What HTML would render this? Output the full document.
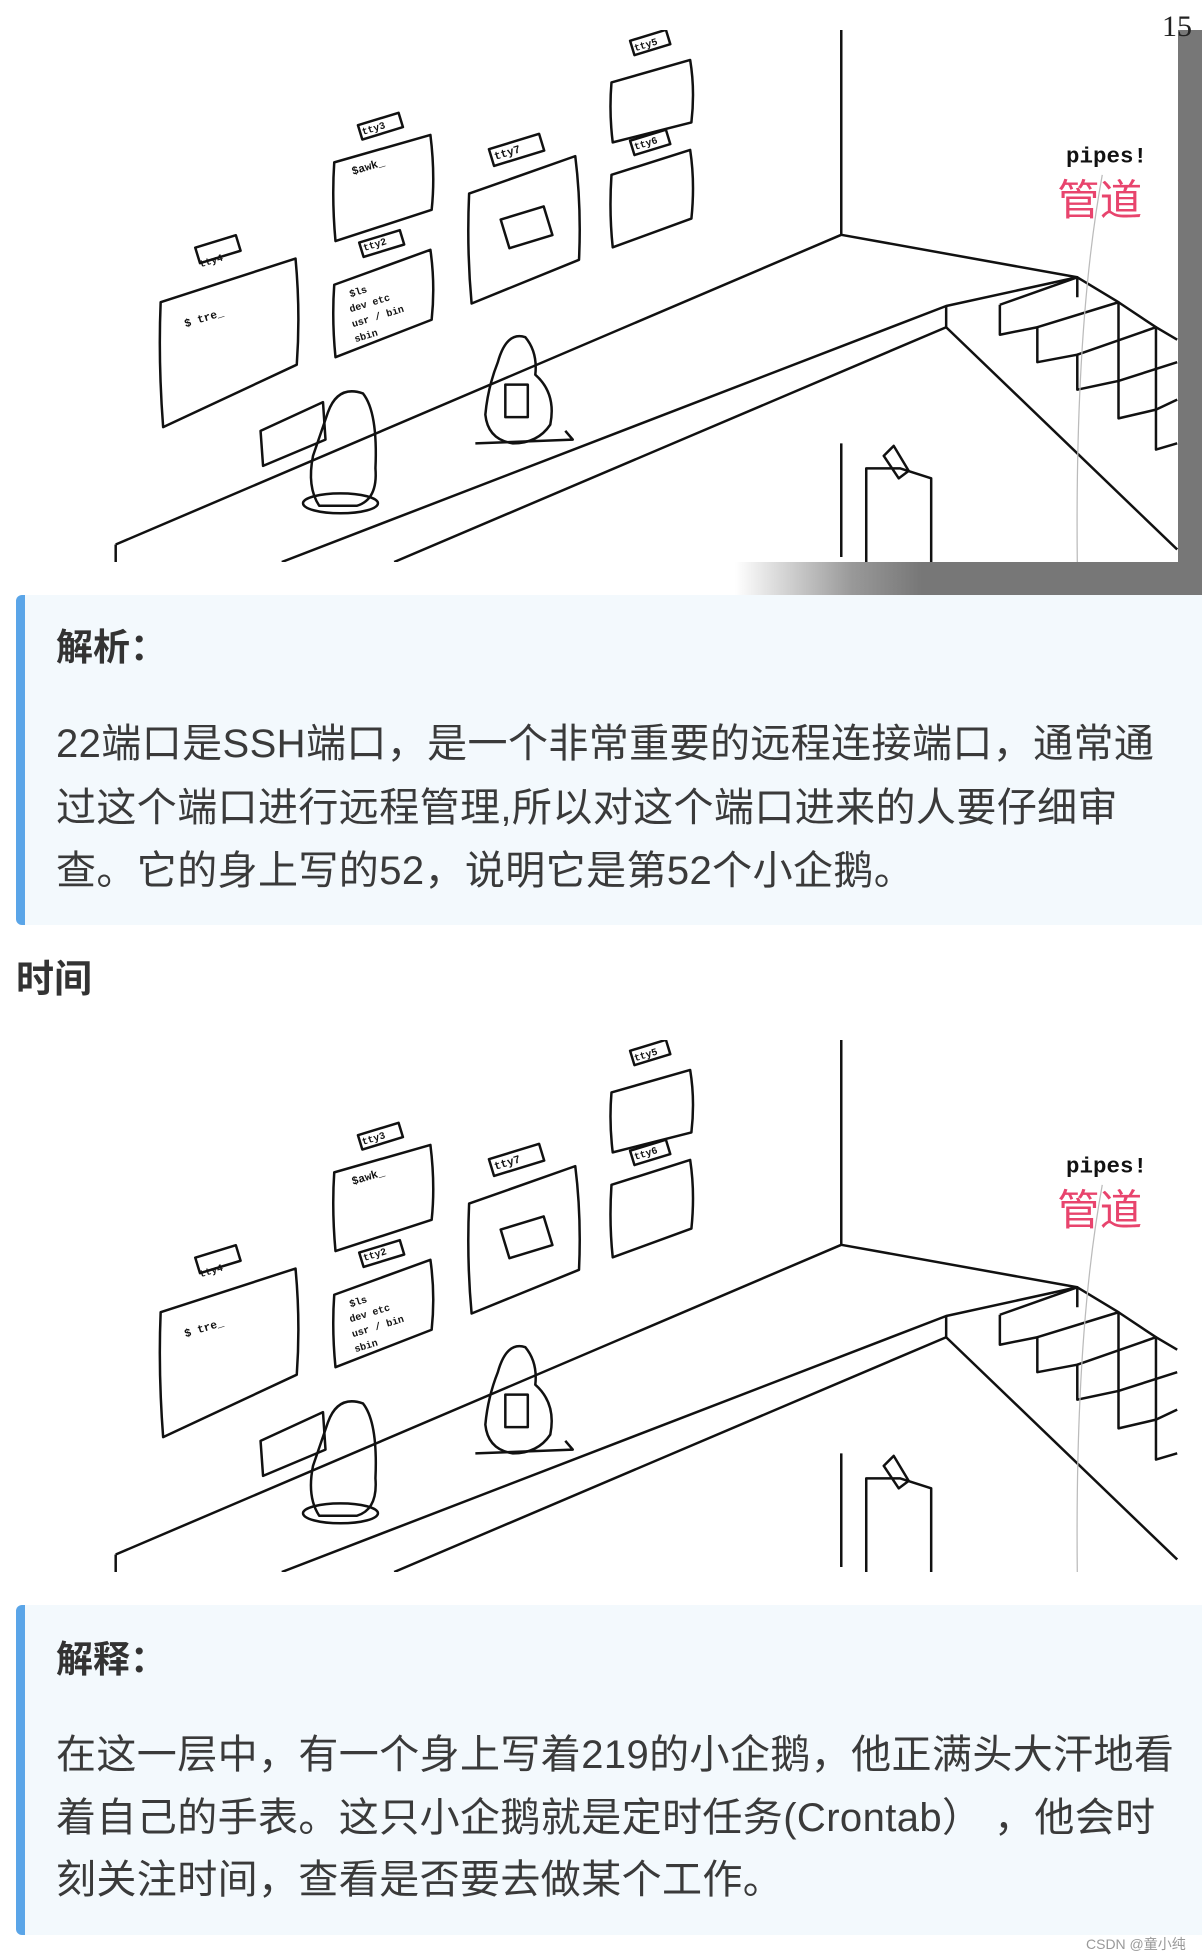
<!DOCTYPE html>
<html><head><meta charset="utf-8"><style>
html,body{margin:0;padding:0;background:#fff;}
body{width:1202px;height:1960px;position:relative;overflow:hidden;font-family:"Liberation Sans","Noto Sans CJK SC",sans-serif;color:#333;}
.abs{position:absolute;}
.bq{position:absolute;left:16px;width:1186px;background:#f3f9fd;border-left:9px solid #5aa5e8;border-radius:6px 0 0 6px;box-sizing:border-box;}
.t{position:absolute;left:56px;font-size:40px;letter-spacing:0.4px;line-height:64px;white-space:nowrap;color:#3a3a3a;}
.h{position:absolute;left:56px;font-size:37px;font-weight:bold;line-height:64px;color:#333;}
svg text{font-family:"Liberation Mono",monospace;}
</style></head><body>

<div class="abs" style="left:1178px;top:30px;width:24px;height:565px;background:#777;"></div>
<div class="abs" style="left:735px;top:562px;width:467px;height:33px;background:linear-gradient(to right,#fff 0%,#999 25%,#777 40%,#777 100%);"></div>
<div class="abs" style="left:0;top:30px;width:1178px;height:532px;background:#fff;border-radius:0 0 18px 0;"></div>
<div class="abs" style="left:1162px;top:10px;font-family:'Liberation Serif',serif;font-size:30px;color:#222;">15</div>

<svg class="abs" style="left:0;top:30px" width="1178" height="532" viewBox="0 24 942 426">
<g fill="none" stroke="#111" stroke-width="2" stroke-linejoin="round">
<line x1="673" y1="24" x2="673" y2="188"/>
<polyline points="92,436 673,188 862,222 862,238"/>
<polyline points="92,436 92,450"/>
<polyline points="225,450 757,245 862,222"/>
<polyline points="315,450 757,262 757,245"/>
<line x1="757" y1="262" x2="942" y2="440"/>
<polyline points="800,244 800,268 830,262 830,290 862,284 862,312 895,305 895,335 925,328 925,360 942,355"/>
<polyline points="800,244 862,222 895,242 895,305"/>
<polyline points="830,262 895,242 925,262 925,328"/>
<polyline points="862,284 925,262 942,272"/>
<polyline points="895,305 942,290"/>
<polyline points="925,328 942,320"/>
<line x1="673" y1="355" x2="673" y2="446"/>
<polyline points="693,450 693,375 720,375 745,383 745,450"/>
<path d="M707,365 l8,-8 l12,20 l-8,6 z"/>
<path d="M128,242 L236,207 Q240,250 237,292 L130,342 Q126,290 128,242 Z"/>
<rect x="157" y="193" width="34" height="13" transform="rotate(-17 174 200)"/>
<path d="M267,130 L344,108 Q348,140 345,168 L268,193 Q265,160 267,130 Z"/>
<rect x="287" y="95" width="34" height="12" transform="rotate(-17 304 101)"/>
<path d="M267,228 L344,200 Q348,228 345,256 L268,286 Q265,256 267,228 Z"/>
<rect x="288" y="189" width="34" height="12" transform="rotate(-17 305 195)"/>
<path d="M375,155 L460,125 Q465,165 463,208 L377,243 Q373,200 375,155 Z"/>
<rect x="392" y="113" width="42" height="14" transform="rotate(-17 413 120)"/>
<rect x="403" y="170" width="36" height="24" transform="rotate(-17 421 182)"/>
<path d="M489,66 L552,48 Q556,72 553,98 L490,114 Q487,90 489,66 Z"/>
<rect x="505" y="28" width="30" height="12" transform="rotate(-17 520 34)"/>
<path d="M489,140 L552,120 Q556,146 553,175 L490,198 Q487,170 489,140 Z"/>
<rect x="505" y="108" width="30" height="12" transform="rotate(-17 520 114)"/>
<path d="M208,345 L258,322 L260,352 L210,373 Z"/>
<path d="M262,330 Q270,308 290,315 Q302,330 300,375 Q302,400 285,405 L255,405 Q245,390 250,365 Z"/>
<ellipse cx="272" cy="403" rx="30" ry="8"/>
<path d="M398,290 Q405,265 420,270 Q430,282 428,300 Q445,315 440,340 Q430,355 410,355 Q390,352 388,332 Q390,310 398,290 Z"/>
<path d="M380,355 L458,352 L452,345"/>
<rect x="404" y="308" width="18" height="26"/>
</g>
<g fill="#111" font-size="9" font-weight="bold">
<text x="148" y="262" transform="rotate(-17 148 262)">$ tre_</text>
<text x="282" y="140" transform="rotate(-17 282 140)">$awk_</text>
<text x="280" y="238" font-size="8" transform="rotate(-17 280 238)">$ls</text>
<text x="280" y="250" font-size="8" transform="rotate(-17 280 250)">dev etc</text>
<text x="282" y="262" font-size="8" transform="rotate(-17 282 262)">usr / bin</text>
<text x="284" y="274" font-size="8" transform="rotate(-17 284 274)">sbin</text>
<text x="160" y="214" font-size="8" transform="rotate(-17 160 214)">tty4</text>
<text x="290" y="108" font-size="8" transform="rotate(-17 290 108)">tty3</text>
<text x="291" y="201" font-size="8" transform="rotate(-17 291 201)">tty2</text>
<text x="396" y="128" font-size="9" transform="rotate(-17 396 128)">tty7</text>
<text x="508" y="41" font-size="8" transform="rotate(-17 508 41)">tty5</text>
<text x="508" y="120" font-size="8" transform="rotate(-17 508 120)">tty6</text>
<text x="853" y="130" font-size="18" font-family="Liberation Mono">pipes!</text>
</g>
<text x="846" y="172" font-size="34" fill="#e8446d" font-family="Noto Sans CJK SC,sans-serif">管道</text>
<path d="M882,140 Q860,260 862,450" fill="none" stroke="#bbb" stroke-width="1"/>
</svg>

<div class="bq" style="top:595px;height:330px;"></div>
<div class="h" style="top:616px;">解析：</div>
<div class="t" style="top:712px;">22端口是SSH端口，是一个非常重要的远程连接端口，通常通</div>
<div class="t" style="top:776px;">过这个端口进行远程管理,所以对这个端口进来的人要仔细审</div>
<div class="t" style="top:839px;">查。它的身上写的52，说明它是第52个小企鹅。</div>

<div class="abs" style="left:16px;top:948px;font-size:38px;font-weight:bold;line-height:64px;color:#333;">时间</div>

<svg class="abs" style="left:0;top:1040px" width="1178" height="532" viewBox="0 24 942 426">
<g fill="none" stroke="#111" stroke-width="2" stroke-linejoin="round">
<line x1="673" y1="24" x2="673" y2="188"/>
<polyline points="92,436 673,188 862,222 862,238"/>
<polyline points="92,436 92,450"/>
<polyline points="225,450 757,245 862,222"/>
<polyline points="315,450 757,262 757,245"/>
<line x1="757" y1="262" x2="942" y2="440"/>
<polyline points="800,244 800,268 830,262 830,290 862,284 862,312 895,305 895,335 925,328 925,360 942,355"/>
<polyline points="800,244 862,222 895,242 895,305"/>
<polyline points="830,262 895,242 925,262 925,328"/>
<polyline points="862,284 925,262 942,272"/>
<polyline points="895,305 942,290"/>
<polyline points="925,328 942,320"/>
<line x1="673" y1="355" x2="673" y2="446"/>
<polyline points="693,450 693,375 720,375 745,383 745,450"/>
<path d="M707,365 l8,-8 l12,20 l-8,6 z"/>
<path d="M128,242 L236,207 Q240,250 237,292 L130,342 Q126,290 128,242 Z"/>
<rect x="157" y="193" width="34" height="13" transform="rotate(-17 174 200)"/>
<path d="M267,130 L344,108 Q348,140 345,168 L268,193 Q265,160 267,130 Z"/>
<rect x="287" y="95" width="34" height="12" transform="rotate(-17 304 101)"/>
<path d="M267,228 L344,200 Q348,228 345,256 L268,286 Q265,256 267,228 Z"/>
<rect x="288" y="189" width="34" height="12" transform="rotate(-17 305 195)"/>
<path d="M375,155 L460,125 Q465,165 463,208 L377,243 Q373,200 375,155 Z"/>
<rect x="392" y="113" width="42" height="14" transform="rotate(-17 413 120)"/>
<rect x="403" y="170" width="36" height="24" transform="rotate(-17 421 182)"/>
<path d="M489,66 L552,48 Q556,72 553,98 L490,114 Q487,90 489,66 Z"/>
<rect x="505" y="28" width="30" height="12" transform="rotate(-17 520 34)"/>
<path d="M489,140 L552,120 Q556,146 553,175 L490,198 Q487,170 489,140 Z"/>
<rect x="505" y="108" width="30" height="12" transform="rotate(-17 520 114)"/>
<path d="M208,345 L258,322 L260,352 L210,373 Z"/>
<path d="M262,330 Q270,308 290,315 Q302,330 300,375 Q302,400 285,405 L255,405 Q245,390 250,365 Z"/>
<ellipse cx="272" cy="403" rx="30" ry="8"/>
<path d="M398,290 Q405,265 420,270 Q430,282 428,300 Q445,315 440,340 Q430,355 410,355 Q390,352 388,332 Q390,310 398,290 Z"/>
<path d="M380,355 L458,352 L452,345"/>
<rect x="404" y="308" width="18" height="26"/>
</g>
<g fill="#111" font-size="9" font-weight="bold">
<text x="148" y="262" transform="rotate(-17 148 262)">$ tre_</text>
<text x="282" y="140" transform="rotate(-17 282 140)">$awk_</text>
<text x="280" y="238" font-size="8" transform="rotate(-17 280 238)">$ls</text>
<text x="280" y="250" font-size="8" transform="rotate(-17 280 250)">dev etc</text>
<text x="282" y="262" font-size="8" transform="rotate(-17 282 262)">usr / bin</text>
<text x="284" y="274" font-size="8" transform="rotate(-17 284 274)">sbin</text>
<text x="160" y="214" font-size="8" transform="rotate(-17 160 214)">tty4</text>
<text x="290" y="108" font-size="8" transform="rotate(-17 290 108)">tty3</text>
<text x="291" y="201" font-size="8" transform="rotate(-17 291 201)">tty2</text>
<text x="396" y="128" font-size="9" transform="rotate(-17 396 128)">tty7</text>
<text x="508" y="41" font-size="8" transform="rotate(-17 508 41)">tty5</text>
<text x="508" y="120" font-size="8" transform="rotate(-17 508 120)">tty6</text>
<text x="853" y="130" font-size="18" font-family="Liberation Mono">pipes!</text>
</g>
<text x="846" y="172" font-size="34" fill="#e8446d" font-family="Noto Sans CJK SC,sans-serif">管道</text>
<path d="M882,140 Q860,260 862,450" fill="none" stroke="#bbb" stroke-width="1"/>
</svg>

<div class="bq" style="top:1605px;height:330px;"></div>
<div class="h" style="top:1628px;">解释：</div>
<div class="t" style="top:1723px;">在这一层中，有一个身上写着219的小企鹅，他正满头大汗地看</div>
<div class="t" style="top:1786px;">着自己的手表。这只小企鹅就是定时任务(Crontab）  ，他会时</div>
<div class="t" style="top:1848px;">刻关注时间，查看是否要去做某个工作。</div>

<div class="abs" style="left:1086px;top:1934px;font-size:14px;color:#999;">CSDN @童小纯</div>
</body></html>
